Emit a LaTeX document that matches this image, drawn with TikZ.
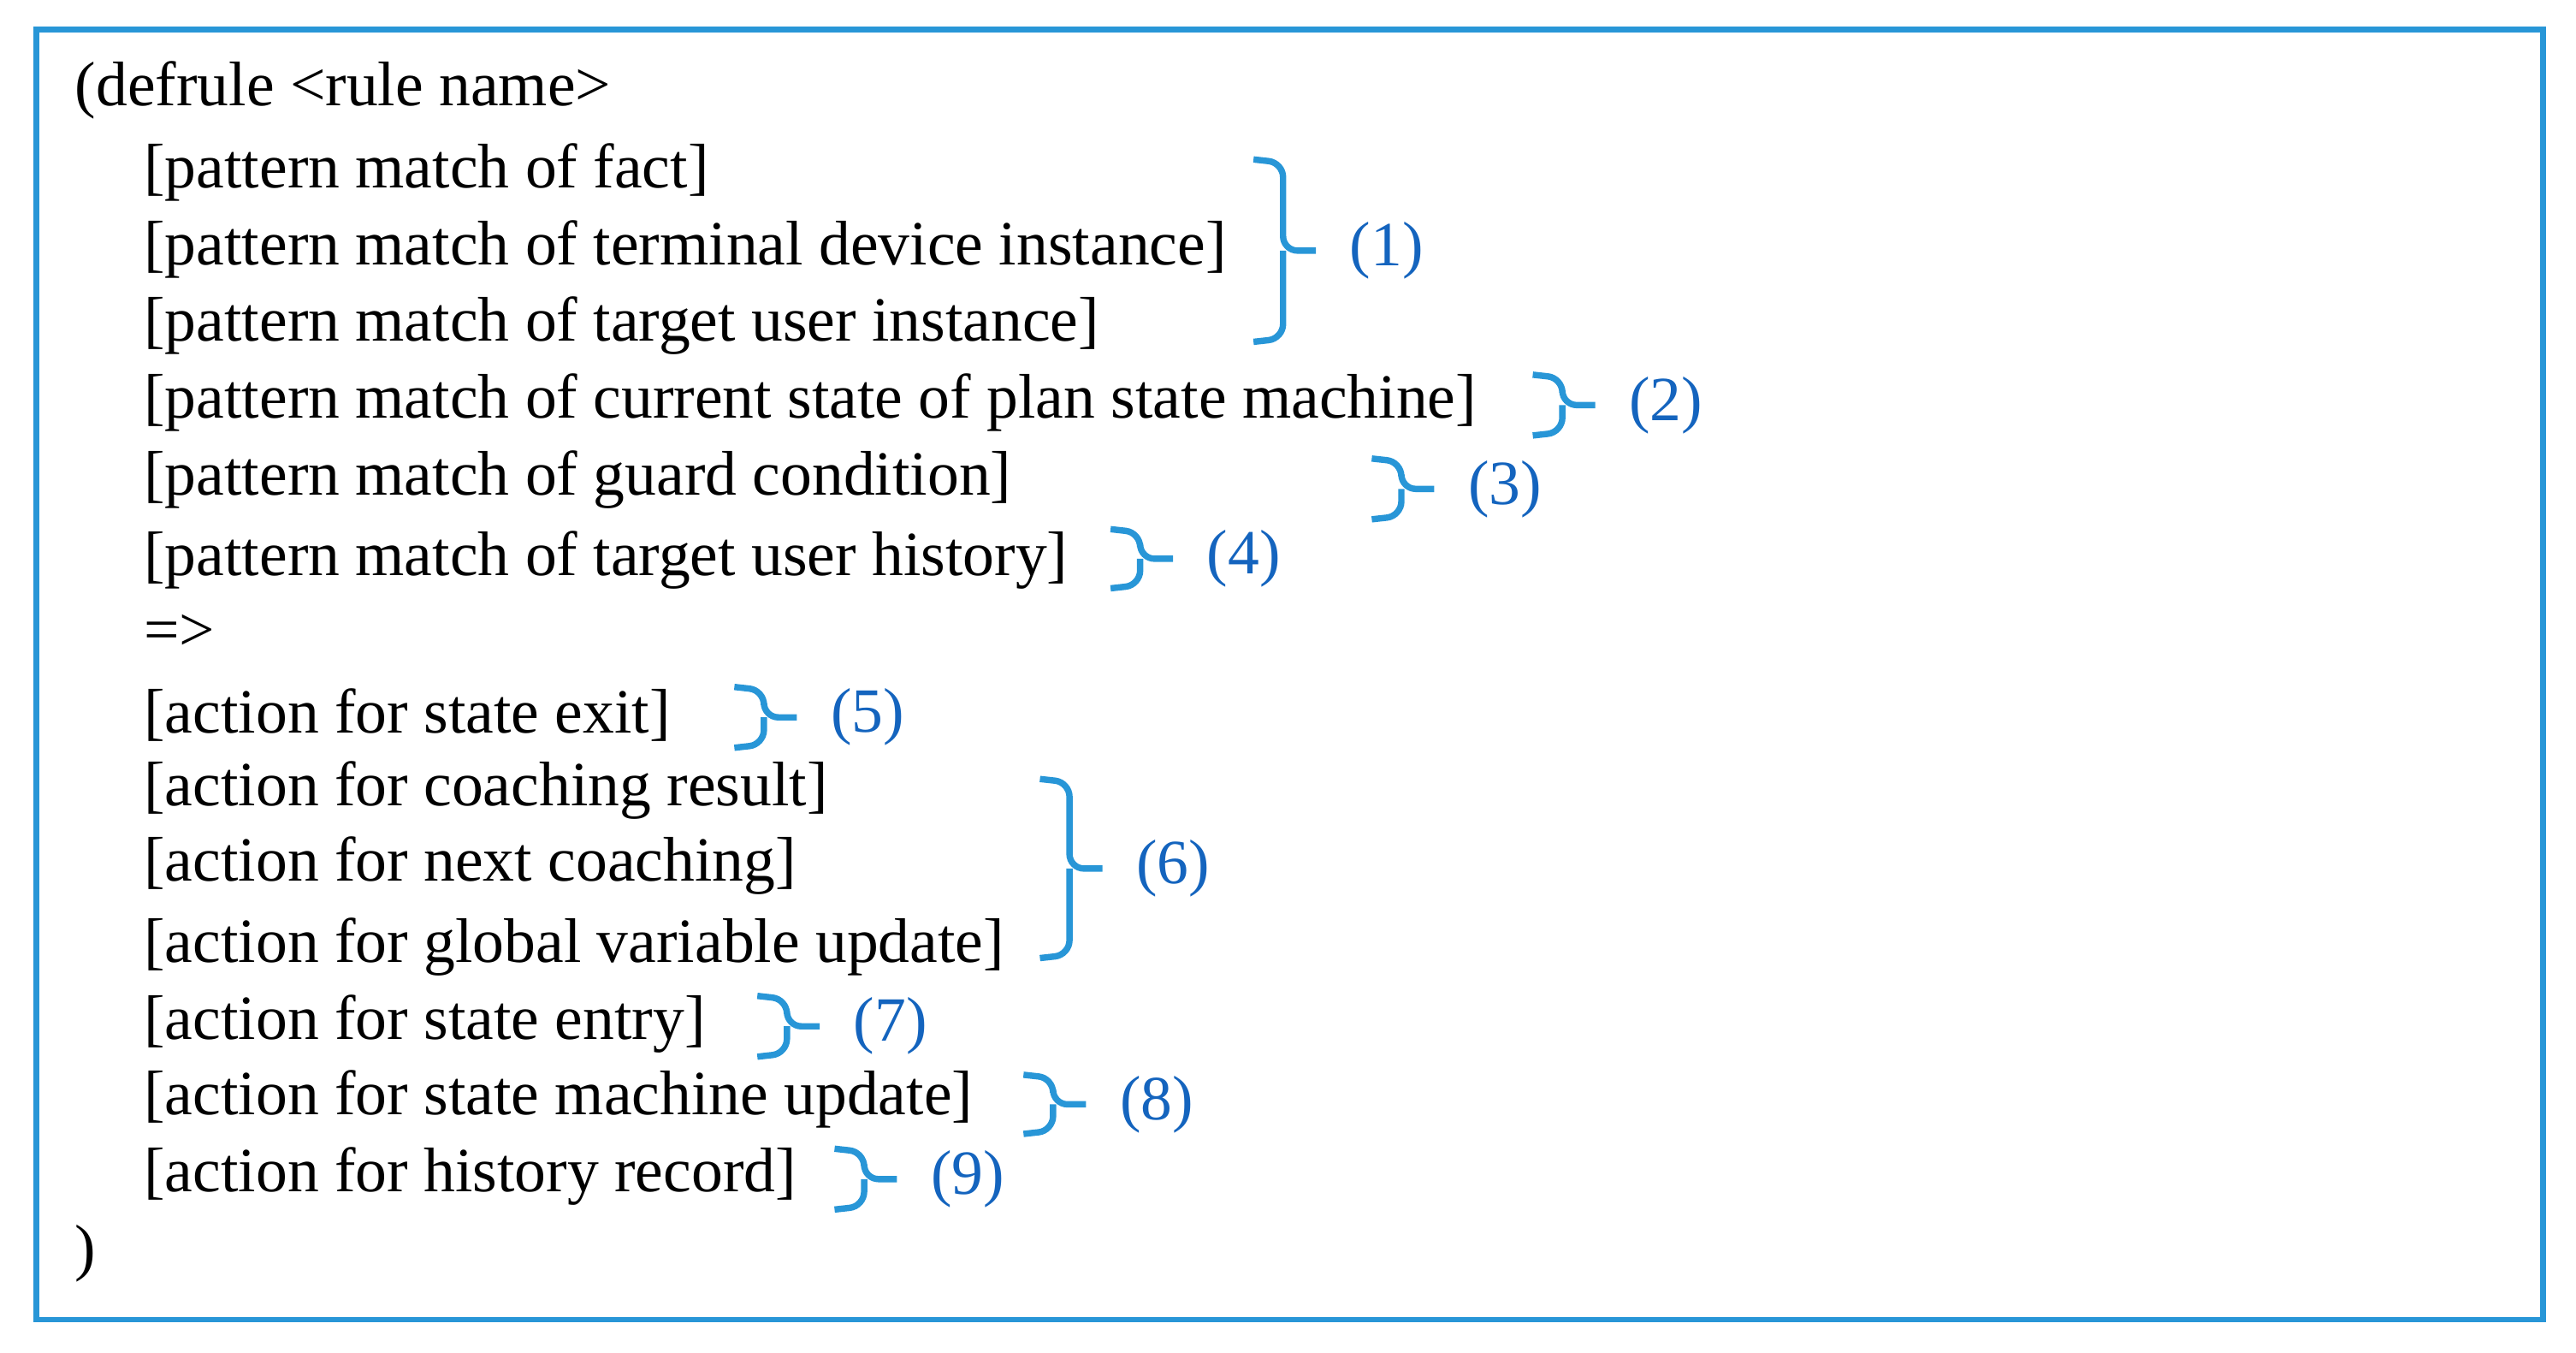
\documentclass[tikz,border=0pt]{standalone}
\usepackage{fontspec}
\setmainfont{Liberation Serif}
\definecolor{brcblue}{RGB}{40,150,215}
\definecolor{lblblue}{RGB}{20,100,190}
\begin{document}
\begin{tikzpicture}[%
    x=0.01cm, y=-0.01cm,
    line/.style={anchor=west, inner sep=0pt, font=\fontsize{10.9pt}{12pt}\selectfont},
    brc/.style={draw=brcblue, line width=1.1pt, rounded corners=2.5pt},
    lbl/.style={anchor=west, inner sep=0pt, text=lblblue, font=\fontsize{10.9pt}{12pt}\selectfont}
  ]
  \useasboundingbox (0,0) rectangle (1568,823);
  \draw[brcblue, line width=1pt] (22,18) rectangle (1548,803);

  % rule text
  \node[line] (head) at (45,55) {(defrule <rule name>};
  \node[line] (p1) at (87,105) {[pattern match of fact]};
  \node[line] (p2) at (87,152) {[pattern match of terminal device instance]};
  \node[line] (p3) at (87,198) {[pattern match of target user instance]};
  \node[line] (p4) at (87,245) {[pattern match of current state of plan state machine]};
  \node[line] (p5) at (87,292) {[pattern match of guard condition]};
  \node[line] (p6) at (87,341) {[pattern match of target user history]};
  \node[line] (arr) at (87,385) {=>};
  \node[line] (a1) at (87,435) {[action for state exit]};
  \node[line] (a2) at (87,481) {[action for coaching result]};
  \node[line] (a3) at (87,527) {[action for next coaching]};
  \node[line] (a4) at (87,576) {[action for global variable update]};
  \node[line] (a5) at (87,623) {[action for state entry]};
  \node[line] (a6) at (87,669) {[action for state machine update]};
  \node[line] (a7) at (87,716) {[action for history record]};
  \node[line] (tail) at (45,763) {)};

  % braces and numbers
  \foreach \x/\ya/\yb/\n in {763/97/208/1, 933/228/265/2, 835/279/316/3,
      676/322/358/4, 447/418/455/5, 633/474/583/6, 461/606/643/7,
      623/654/690/8, 508/699/736/9}{
    \pgfmathsetmacro\ym{(\ya+\yb)/2}
    \coordinate (b\n t) at (\x,\ya);
    \coordinate (b\n b) at (\x,\yb);
    \coordinate (b\n m) at (\x+38,\ym);
    \draw[brc] (b\n t) -- ++(18,2) -- (\x+18,\ym) -- (b\n m);
    \draw[brc] (b\n b) -- ++(18,-2) -- (\x+18,\ym);
    \node[lbl] (n\n) at (\x+58,\ym) {(\n)};
  }
\end{tikzpicture}
\end{document}
